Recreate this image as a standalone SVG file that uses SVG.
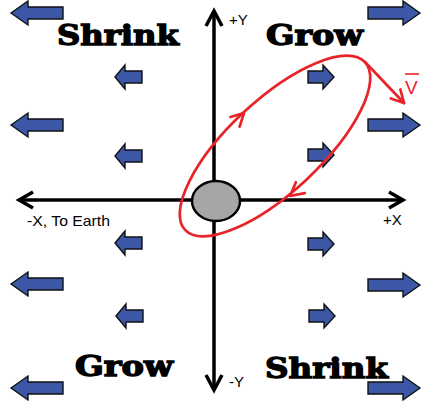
<svg xmlns="http://www.w3.org/2000/svg" width="422" height="404" viewBox="0 0 422 404">
<style>
.big{font-family:"DejaVu Serif","Liberation Serif",serif;font-weight:bold;font-size:27px;fill:#000;stroke:#000;stroke-width:1.3}
.lbl{font-family:"Liberation Sans","Open Sans",sans-serif;font-size:15px;fill:#000}
.ax{fill:none;stroke:#000;stroke-width:3.5}
.red{fill:none;stroke:#e8242a;stroke-width:2.7;stroke-linecap:round;stroke-linejoin:round}
.blue{fill:#3c57a6;stroke:#111;stroke-width:1.4}
</style>
<defs>
<polygon id="bigL" class="blue" points="0,0 17,-12 17,-6 52,-6 52,6 17,6 17,12"/>
<polygon id="bigR" class="blue" points="0,0 -17,-12 -17,-6 -52,-6 -52,6 -17,6 -17,12"/>
<polygon id="smL" class="blue" points="0,0 10,-12 10,-6 27,-6 27,6 10,6 10,12"/>
<polygon id="smR" class="blue" points="0,0 -11,-12 -11,-6 -26,-6 -26,6 -11,6 -11,12"/>
</defs>
<rect width="422" height="404" fill="#fff"/>
<g id="field-arrows">
<use href="#bigL" x="11" y="13"/>
<use href="#bigL" x="11" y="125"/>
<use href="#bigL" x="11" y="284"/>
<use href="#bigL" x="11" y="388"/>
<use href="#bigR" x="420" y="13"/>
<use href="#bigR" x="420" y="125"/>
<use href="#bigR" x="420" y="285"/>
<use href="#bigR" x="420" y="388"/>
<use href="#smL" x="115" y="77"/>
<use href="#smL" x="115" y="156"/>
<use href="#smL" x="115" y="243"/>
<use href="#smL" x="116" y="316"/>
<use href="#smR" x="334" y="77"/>
<use href="#smR" x="334" y="155"/>
<use href="#smR" x="334" y="244"/>
<use href="#smR" x="335" y="316"/>
</g>
<g id="axes">
<line class="ax" x1="214" y1="12" x2="214" y2="389"/>
<polyline class="ax" points="206,26 214,11 222,26"/>
<polyline class="ax" points="206,375 214,390 222,375"/>
<line class="ax" x1="20" y1="200" x2="402" y2="200"/>
<polyline class="ax" points="33,192 19,200 33,208"/>
<polyline class="ax" points="389,192 403,200 389,208"/>
</g>
<g id="planet">
<ellipse cx="216" cy="201" rx="24" ry="20" fill="#a6a6a6" stroke="#000" stroke-width="2.5"/>
</g>
<g id="orbit">
<ellipse class="red" cx="275" cy="146" rx="123" ry="46" transform="rotate(-43 275 146)"/>
<polyline class="red" points="230.5,117 244,113 239.6,126.6"/>
<polyline class="red" points="295.9,182.2 290,196 304.7,193.2"/>
<line class="red" x1="365" y1="62" x2="404" y2="103"/>
<polyline class="red" points="390.8,98.4 404,103 400.4,89.5"/>
<text x="405" y="94" font-family="Liberation Sans, Open Sans, sans-serif" font-size="19" fill="#e8242a">V</text>
<line x1="405" y1="74" x2="419" y2="74" stroke="#e8242a" stroke-width="1.6"/>
</g>
<g id="labels">
<text class="big" x="57" y="45" textLength="122" lengthAdjust="spacingAndGlyphs">Shrink</text>
<text class="big" x="266" y="45" textLength="97" lengthAdjust="spacingAndGlyphs">Grow</text>
<text class="big" x="75" y="376" textLength="98" lengthAdjust="spacingAndGlyphs">Grow</text>
<text class="big" x="265" y="378" textLength="123" lengthAdjust="spacingAndGlyphs">Shrink</text>
<text class="lbl" x="27" y="226" textLength="83" lengthAdjust="spacingAndGlyphs">-X, To Earth</text>
<text class="lbl" x="383" y="225">+X</text>
<text class="lbl" x="229" y="25" font-size="13">+Y</text>
<text class="lbl" x="229" y="387">-Y</text>
</g>
</svg>
